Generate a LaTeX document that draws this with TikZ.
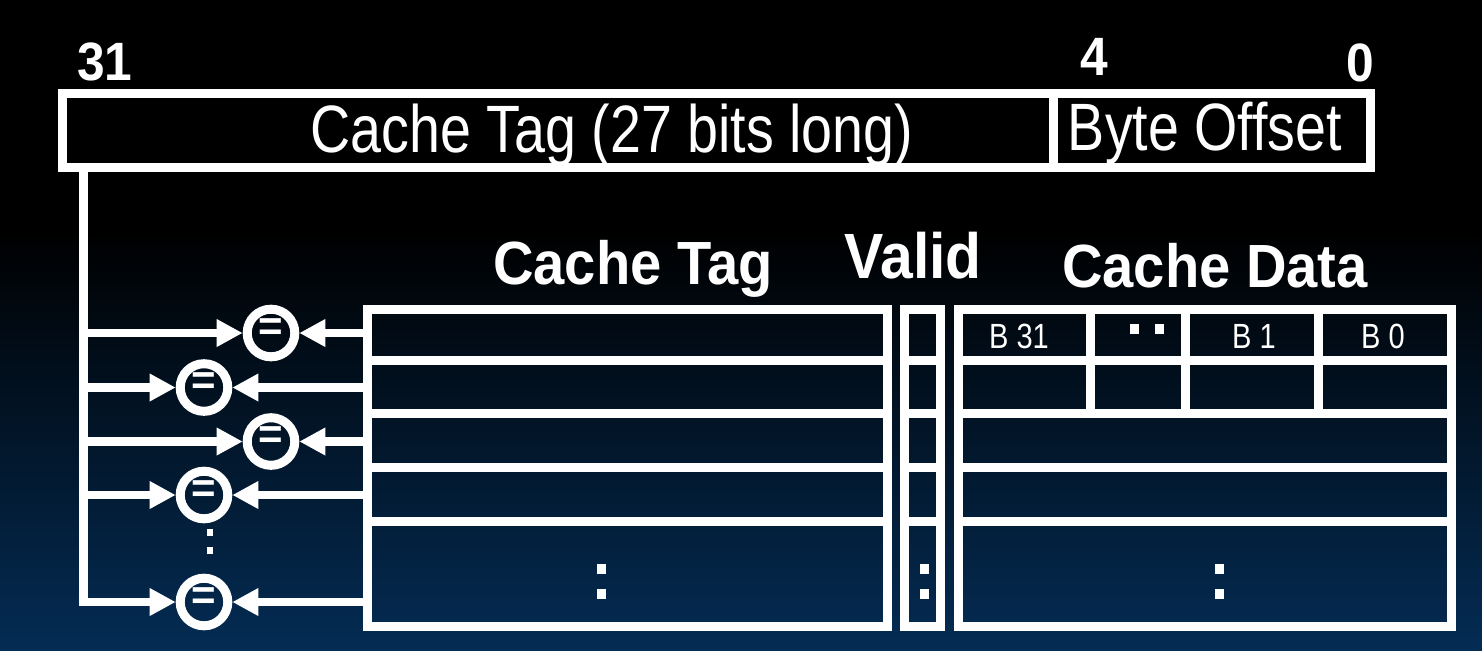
\documentclass[tikz,border=0pt]{standalone}
\usepackage{fontspec}
\setmainfont{Liberation Sans}
\newfontfamily\condfont{Liberation Sans}[FakeStretch=0.83]
\newfontfamily\hdrfont{Liberation Sans}[FakeStretch=0.92]
\usetikzlibrary{arrows.meta}
\definecolor{bgblue}{RGB}{4,44,84}
\begin{document}
\begin{tikzpicture}[x=0.5pt,y=-0.5pt,
  cell/.style={draw=white,line width=4.5pt,inner sep=0pt,outer sep=0pt,rectangle,text=white},
  cmp/.style={circle,draw=white,line width=4.5pt,minimum size=23.8pt,inner sep=0pt,text=white,
    font=\bfseries\fontsize{21}{21}\selectfont},
  bus/.style={draw=white,line width=4.3pt,line join=miter},
  arr/.style={draw=white,line width=4.2pt,-{Triangle[length=13pt,width=13pt]}},
  reglbl/.style={text=white,inner sep=0pt,anchor=base,font=\condfont\fontsize{33.5}{33.5}\selectfont},
  bitnum/.style={text=white,inner sep=0pt,anchor=base,font=\hdrfont\bfseries\fontsize{27}{27}\selectfont},
  hdr/.style={text=white,inner sep=0pt,anchor=base,font=\hdrfont\bfseries\fontsize{30.5}{30.5}\selectfont},
  blbl/.style={text=white,inner sep=0pt,anchor=base,font=\condfont\fontsize{17.5}{17.5}\selectfont},
  dot/.style={fill=white}]
\useasboundingbox (0,0) rectangle (1482,650);
% background
\fill[black] (0,0) rectangle (1482,231);
\shade[top color=black,bottom color=bgblue] (0,230) rectangle (1482,650);

% register
\node[cell,minimum width=495.75pt,minimum height=37pt] (regtag) at (557.75,130.5) {};
\node[cell,minimum width=158.25pt,minimum height=37pt] (regoff) at (1211.75,130.5) {};
\node[reglbl] (lbltag) at (612,152) {Cache Tag (27 bits long)};
\node[reglbl] (lbloff) at (1205,150) {Byte Offset};
\node[bitnum] (n31) at (105,80) {31};
\node[bitnum] (n4) at (1094,75) {4};
\node[bitnum] (n0) at (1360,81) {0};

% headers
\node[hdr] (htag) at (633,284) {Cache Tag};
\node[hdr,font=\hdrfont\bfseries\fontsize{32}{32}\selectfont] (hvalid) at (913,278) {Valid};
\node[hdr] (hdata) at (1215,287) {Cache Data};

% tag table rows
\node[cell,minimum width=260pt,minimum height=25.5pt] (t1) at (627,334.5) {};
\node[cell,minimum width=260pt,minimum height=26.5pt] (t2) at (627,386.5) {};
\node[cell,minimum width=260pt,minimum height=27pt] (t3) at (627,440) {};
\node[cell,minimum width=260pt,minimum height=27pt] (t4) at (627,494) {};
\node[cell,minimum width=260pt,minimum height=52.5pt] (t5) at (627,573.5) {};
% valid rows
\node[cell,minimum width=18pt,minimum height=25.5pt] (v1) at (922.5,334.5) {};
\node[cell,minimum width=18pt,minimum height=26.5pt] (v2) at (922.5,386.5) {};
\node[cell,minimum width=18pt,minimum height=27pt] (v3) at (922.5,440) {};
\node[cell,minimum width=18pt,minimum height=27pt] (v4) at (922.5,494) {};
\node[cell,minimum width=18pt,minimum height=52.5pt] (v5) at (922.5,573.5) {};
% data rows
\node[cell,minimum width=66pt,minimum height=25.5pt] (d11) at (1024,334.5) {};
\node[cell,minimum width=47.5pt,minimum height=25.5pt] (d12) at (1137.5,334.5) {};
\node[cell,minimum width=66.5pt,minimum height=25.5pt] (d13) at (1251.5,334.5) {};
\node[cell,minimum width=66.5pt,minimum height=25.5pt] (d14) at (1384.5,334.5) {};
\node[cell,minimum width=66pt,minimum height=26.5pt] (d21) at (1024,386.5) {};
\node[cell,minimum width=47.5pt,minimum height=26.5pt] (d22) at (1137.5,386.5) {};
\node[cell,minimum width=66.5pt,minimum height=26.5pt] (d23) at (1251.5,386.5) {};
\node[cell,minimum width=66.5pt,minimum height=26.5pt] (d24) at (1384.5,386.5) {};
\node[cell,minimum width=246.5pt,minimum height=27pt] (d3) at (1204.5,440) {};
\node[cell,minimum width=246.5pt,minimum height=27pt] (d4) at (1204.5,494) {};
\node[cell,minimum width=246.5pt,minimum height=52.5pt] (d5) at (1204.5,573.5) {};
% byte labels
\node[blbl] (b31) at (1019,348) {B 31};
\node[blbl] (b1) at (1254,348) {B 1};
\node[blbl] (b0) at (1383,348) {B 0};
\fill[dot] (1130,324) rectangle (1139,334);
\fill[dot] (1154.5,324) rectangle (1163.5,334);
% vertical ellipses
\fill[dot] (597,564) rectangle (606,574);
\fill[dot] (597,589) rectangle (606,599);
\fill[dot] (919.5,564) rectangle (928.5,574);
\fill[dot] (919.5,589) rectangle (928.5,599);
\fill[dot] (1215,564) rectangle (1224,574);
\fill[dot] (1215,589) rectangle (1224,599);
\fill[dot] (206.5,529) rectangle (212.5,536);
\fill[dot] (206.5,547) rectangle (212.5,554);

% comparators
\node[cmp] (c1) at (271,333) {\raisebox{-3.5pt}[0pt][0pt]{=}};
\node[cmp] (c2) at (204,387.5) {\raisebox{-3.5pt}[0pt][0pt]{=}};
\node[cmp] (c3) at (271,441.5) {\raisebox{-3.5pt}[0pt][0pt]{=}};
\node[cmp] (c4) at (204,495) {\raisebox{-3.5pt}[0pt][0pt]{=}};
\node[cmp] (c5) at (204,602) {\raisebox{-3.5pt}[0pt][0pt]{=}};

% bus
\coordinate (bus0) at (83.5,169);
\coordinate (bus5) at (83.5,602);
\draw[bus,arr] (bus0) -- (bus5) -- (c5);
\draw[arr] (bus0 |- c1) -- (c1);
\draw[arr] (bus0 |- c2) -- (c2);
\draw[arr] (bus0 |- c3) -- (c3);
\draw[arr] (bus0 |- c4) -- (c4);
% from tag table
\draw[arr] (t1.west |- c1) -- (c1);
\draw[arr] (t2.west |- c2) -- (c2);
\draw[arr] (t3.west |- c3) -- (c3);
\draw[arr] (t4.west |- c4) -- (c4);
\draw[arr] (t5.west |- c5) -- (c5);
\end{tikzpicture}
\end{document}
